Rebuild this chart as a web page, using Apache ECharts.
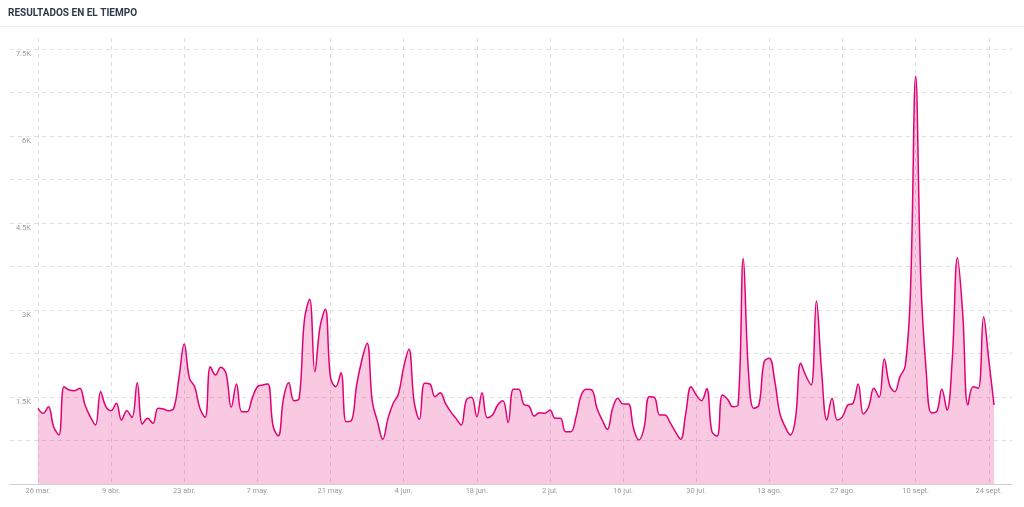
<!DOCTYPE html>
<html>
<head>
<meta charset="utf-8">
<script src="https://cdn.jsdelivr.net/npm/echarts@6/dist/echarts.min.js"></script>
<style>
  html, body { margin: 0; padding: 0; background: #fff; }
  #chart { width: 1024px; height: 507px; }
</style>
</head>
<body>
<div id="chart"></div>
<script>
// Daily results from 26 mar. (index 0) to 25 sept. (index 183)
const values = [
  1305, 1218, 1333, 988, 845, 1678, 1620, 1609, 1650, 1362,
  1161, 1017, 1592, 1333, 1264, 1391, 1103, 1264, 1149, 1747,
  1035, 1132, 1046, 1305, 1293, 1264, 1305, 1839, 2414, 1822,
  1678, 1305, 1149, 2023, 1879, 2012, 1908, 1322, 1724, 1247,
  1247, 1477, 1678, 1707, 1724, 1000, 830, 1477, 1747, 1437,
  1477, 2828, 3184, 1937, 2713, 3011, 1839, 1678, 1920, 1075,
  1092, 1707, 2138, 2425, 1420, 1075, 770, 1132, 1391, 1552,
  2012, 2322, 1420, 1115, 1736, 1724, 1506, 1575, 1391, 1247,
  1132, 1017, 1448, 1494, 1161, 1575, 1144, 1190, 1362, 1437,
  1058, 1632, 1632, 1374, 1345, 1172, 1230, 1218, 1276, 1132,
  1132, 902, 902, 1161, 1535, 1632, 1621, 1305, 1103, 943,
  1305, 1477, 1379, 1379, 960, 759, 960, 1506, 1494, 1190,
  1190, 1058, 902, 770, 1218, 1678, 1535, 1437, 1644, 902,
  828, 1535, 1460, 1333, 1362, 3890, 1930, 1305, 1362, 2109,
  2167, 1793, 1218, 988, 845, 1132, 2080, 1862, 1707, 3155,
  1937, 1103, 1477, 1103, 1161, 1362, 1391, 1724, 1207, 1333,
  1650, 1494, 2155, 1707, 1592, 1851, 2034, 3300, 7030, 3500,
  1966, 1230, 1247, 1632, 1276, 2138, 3900, 2943, 1362, 1678,
  1650, 2885, 2138, 1362
];
// Tick labels (every 14 days from index 0)
const tickIndex = [0, 14, 28, 42, 56, 70, 84, 98, 112, 126, 140, 154, 168, 182];
const tickLabels = ['26 mar.', '9 abr.', '23 abr.', '7 may.', '21 may.', '4 jun.', '18 jun.',
                    '2 jul.', '16 jul.', '30 jul.', '13 ago.', '27 ago.', '10 sept.', '24 sept.'];
const yGridValues = [0, 750, 1500, 2250, 3000, 3750, 4500, 5250, 6000, 6750, 7500];
const yLabelValues = [1500, 3000, 4500, 6000, 7500];
const title = 'RESULTADOS EN EL TIEMPO';

const seriesData = values.map((v, i) => [i, v]);
const labelMap = {};
tickIndex.forEach((t, k) => { labelMap[t] = tickLabels[k]; });

const chart = echarts.init(document.getElementById('chart'), null, { renderer: 'canvas' });
chart.setOption({
  animation: false,
  textStyle: { fontFamily: 'Roboto' },
  title: {
    text: title,
    left: 8,
    top: 8,
    padding: 0,
    textStyle: { fontSize: 10, fontWeight: 'bold', color: '#2c3a4a', fontFamily: 'Roboto' }
  },
  graphic: [{
    type: 'line',
    shape: { x1: 0, y1: 26.5, x2: 1024, y2: 26.5 },
    style: { stroke: '#ececec', lineWidth: 1 },
    silent: true
  }],
  grid: { left: 10, right: 12, top: 38, bottom: 23, containLabel: false },
  xAxis: {
    type: 'value',
    min: -5.35,
    max: 186.44,
    axisLine: { show: true, lineStyle: { color: '#cfcfcf', width: 1 } },
    axisTick: { show: false, customValues: tickIndex },
    axisLabel: {
      customValues: tickIndex,
      formatter: v => labelMap[v] || '',
      color: '#9a9a9a',
      fontSize: 7.5,
      margin: 3
    },
    splitLine: { show: true, lineStyle: { color: '#dedede', type: [4, 4], width: 1 } }
  },
  yAxis: {
    type: 'value',
    min: 0,
    max: 7690,
    axisLine: { show: false },
    axisTick: { show: false, customValues: yGridValues },
    axisLabel: {
      customValues: yLabelValues,
      formatter: v => (v / 1000) + 'K',
      color: '#9a9a9a',
      fontSize: 7.5,
      margin: -21,
      align: 'right',
      verticalAlign: 'top',
      padding: [1, 0, 0, 0]
    },
    splitLine: { show: true, lineStyle: { color: '#dedede', type: [4, 4], width: 1 } }
  },
  series: [{
    type: 'line',
    data: seriesData,
    smooth: 0.4,
    symbol: 'none',
    lineStyle: { color: '#e20074', width: 1.5 },
    areaStyle: { color: '#e20074', opacity: 0.21 },
    z: 3
  }]
});
</script>
</body>
</html>
